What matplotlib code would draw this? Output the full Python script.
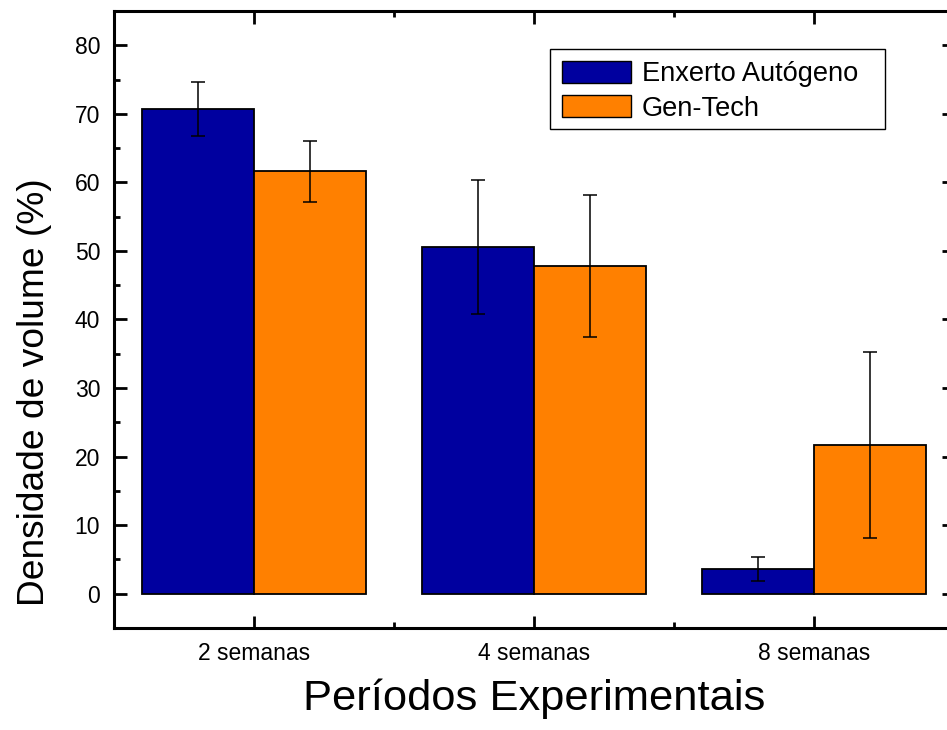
import matplotlib
matplotlib.use("Agg")
import matplotlib.pyplot as plt
import numpy as np
from matplotlib.ticker import MultipleLocator, FixedLocator
from matplotlib.patches import Rectangle

plt.rcParams['font.family'] = ['Liberation Sans', 'DejaVu Sans']

categories = ["2 semanas", "4 semanas", "8 semanas"]
series_names = ["Enxerto Autógeno", "Gen-Tech"]
autogeno = [70.7, 50.6, 3.6]
autogeno_err = [3.9, 9.8, 1.8]
gentech = [61.6, 47.8, 21.7]
gentech_err = [4.5, 10.3, 13.5]

colors = ["#00009F", "#FF8000"]

W, H = 947, 730
fig = plt.figure(figsize=(W / 100, H / 100), dpi=100)
left, right, top, bottom = 114, 954, 11, 628
ax = fig.add_axes([left / W, 1 - bottom / H, (right - left) / W, (bottom - top) / H])

x = np.arange(1, len(categories) + 1)
bw = 0.4
ekw = dict(ecolor="black", elinewidth=1.1, capsize=4.7, capthick=1.1)
ax.bar(x - bw, autogeno, width=bw, align="edge", color=colors[0], edgecolor="black",
       linewidth=1.3, yerr=autogeno_err, error_kw=ekw, label=series_names[0], zorder=2)
ax.bar(x, gentech, width=bw, align="edge", color=colors[1], edgecolor="black",
       linewidth=1.3, yerr=gentech_err, error_kw=ekw, label=series_names[1], zorder=2)

ax.set_xlim(0.5, 3.5)
ax.set_ylim(-5, 85)
ax.set_xticks(x)
ax.set_xticklabels(categories)
ax.xaxis.set_minor_locator(FixedLocator([1.5, 2.5]))
ax.yaxis.set_major_locator(MultipleLocator(10))
ax.yaxis.set_minor_locator(MultipleLocator(5))
ax.set_yticks(np.arange(0, 81, 10))

for s in ax.spines.values():
    s.set_linewidth(2.2)
ax.tick_params(which="both", direction="in", top=True, right=True, width=2.0,
               labelsize=16.5, colors="black")
ax.tick_params(which="major", length=9, pad=10)
ax.tick_params(which="minor", length=4.5)

ax.set_ylabel("Densidade de volume (%)", fontsize=26.7)
ax.yaxis.set_label_coords((52 - left) / (right - left), 0.383)
ax.set_xlabel("Períodos Experimentais", fontsize=31.3, labelpad=10)


def ax_frac(px, py):
    return (px - left) / (right - left), (bottom - py) / (bottom - top)


fs = 19.6
pad_px = 12
leg = ax.legend(loc="upper left", bbox_to_anchor=ax_frac(550, 49),
                borderaxespad=0, fontsize=fs, frameon=False,
                handlelength=2.54, handleheight=0.85, handletextpad=0.4,
                borderpad=pad_px / (fs * 100 / 72), labelspacing=0.3)
for p in leg.get_patches():
    p.set_linewidth(1.0)

x0, y0 = ax_frac(550, 129)
x1, y1 = ax_frac(885, 49)
ax.add_patch(Rectangle((x0, y0), x1 - x0, y1 - y0, transform=ax.transAxes,
                       facecolor="white", edgecolor="black", linewidth=1.0, zorder=4))
leg.set_zorder(5)

fig.savefig("out.png", dpi=100)
